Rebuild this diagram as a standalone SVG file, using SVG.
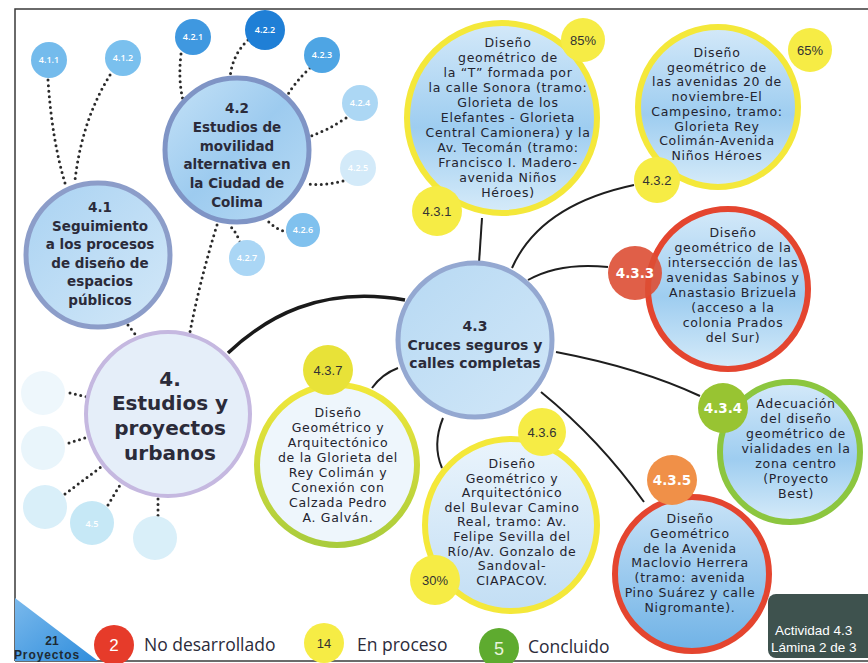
<svg xmlns="http://www.w3.org/2000/svg" width="868" height="663" viewBox="0 0 868 663">
<defs>
<style>
.t{font-family:"DejaVu Sans","Open Sans",sans-serif;font-size:12.5px;letter-spacing:0.7px;fill:#24242f;text-anchor:middle}
.b{font-family:"DejaVu Sans","Open Sans",sans-serif;font-weight:700;fill:#2b2b3a;text-anchor:middle}
.bd{font-family:"Liberation Sans",Arial,sans-serif;font-size:13px;fill:#333;text-anchor:middle}
.bw{font-family:"DejaVu Sans","Open Sans",sans-serif;font-weight:700;font-size:13.5px;fill:#fff;text-anchor:middle}
.sm{font-family:"Open Sans","Noto Sans",sans-serif;font-size:9px;font-weight:600;fill:#fff;text-anchor:middle}
.dot{fill:none;stroke:#2a2a2a;stroke-width:3;stroke-linecap:round;stroke-dasharray:0 5.5}
.ln{fill:none;stroke:#1e1e1e;stroke-width:2}
.lg{font-family:"Open Sans","Noto Sans",sans-serif;font-size:17.5px;fill:#2b2b3a}
</style>
<linearGradient id="gIn" x1="0" y1="0" x2="0" y2="1">
<stop offset="0" stop-color="#d4e9f9"/><stop offset="0.55" stop-color="#9ecdf0"/><stop offset="1" stop-color="#d6ebf9"/>
</linearGradient>
<linearGradient id="gIn5" x1="0" y1="0" x2="0" y2="1">
<stop offset="0" stop-color="#c9e3f7"/><stop offset="1" stop-color="#6fb2e6"/>
</linearGradient>
<linearGradient id="gPale" x1="0" y1="0" x2="0" y2="1">
<stop offset="0" stop-color="#eaf4fc"/><stop offset="1" stop-color="#c2def4"/>
</linearGradient>
<linearGradient id="g41" x1="0" y1="0" x2="1" y2="1">
<stop offset="0" stop-color="#a9d2f2"/><stop offset="1" stop-color="#d3e8f8"/>
</linearGradient>
<linearGradient id="g42" x1="0" y1="0" x2="1" y2="1">
<stop offset="0" stop-color="#c5e2f7"/><stop offset="0.5" stop-color="#9dcbef"/><stop offset="1" stop-color="#b9dbf4"/>
</linearGradient>
<linearGradient id="g43" x1="0" y1="0" x2="1" y2="1">
<stop offset="0" stop-color="#b7d9f3"/><stop offset="1" stop-color="#d1e7f8"/>
</linearGradient>
<linearGradient id="gRing7" x1="0" y1="0" x2="0" y2="1">
<stop offset="0" stop-color="#f2e83a"/><stop offset="1" stop-color="#a9cc3c"/>
</linearGradient>
<linearGradient id="gTri" x1="0" y1="0" x2="1" y2="1">
<stop offset="0" stop-color="#7ab9ec"/><stop offset="1" stop-color="#2f8ddc"/>
</linearGradient>
</defs>

<rect width="868" height="663" fill="#ffffff"/>
<g id="frame" fill="none" stroke="#3a3a3a" stroke-width="1.5">
<path d="M15,661 L15,9 L868,9"/>
<path d="M15,661 L868,661"/>
</g>

<g id="connectors">
<path class="dot" d="M48,80 Q52,140 65,183"/>
<path class="dot" d="M110,75 Q82,120 75,180"/>
<path class="dot" d="M181,54 Q178,80 183,100"/>
<path class="dot" d="M248,40 Q232,55 230,78"/>
<path class="dot" d="M310,68 Q295,82 287,96"/>
<path class="dot" d="M346,118 Q328,130 311,136"/>
<path class="dot" d="M343,181 Q325,186 307,184"/>
<path class="dot" d="M288,232 Q276,230 268,221"/>
<path class="dot" d="M240,242 Q236,232 231,227"/>
<path class="dot" d="M217,225 Q200,280 190,332"/>
<path class="dot" d="M128,325 L135,334"/>
<path class="dot" d="M70,393 L87,397"/>
<path class="dot" d="M69,443 L88,437"/>
<path class="dot" d="M65,494 L101,467"/>
<path class="dot" d="M108,505 L120,485"/>
<path class="dot" d="M158,499 L158,516"/>
<path d="M228,353 C265,318 320,285 405,300" fill="none" stroke="#1a1a1a" stroke-width="3.5"/>
<path class="ln" d="M479,263 L482,218"/>
<path class="ln" d="M512,268 Q540,205 634,185"/>
<path class="ln" d="M528,280 Q560,262 608,267"/>
<path class="ln" d="M556,352 Q640,368 700,396"/>
<path class="ln" d="M541,392 Q600,440 644,502"/>
<path class="ln" d="M443,418 Q432,445 442,468"/>
<path class="ln" d="M398,368 Q382,374 372,388"/>
</g>

<g id="n411"><circle cx="49" cy="60" r="18" fill="#74bbec"/><text class="sm" x="49" y="63">4.1.1</text></g>
<g id="n412"><circle cx="123" cy="58" r="18" fill="#7ac0ee"/><text class="sm" x="123" y="61">4.1.2</text></g>
<g id="n421"><circle cx="193" cy="37" r="18" fill="#3f98e0"/><text class="sm" x="193" y="40">4.2.1</text></g>
<g id="n422"><circle cx="265" cy="30" r="20" fill="#1f7fd6"/><text class="sm" x="265" y="33">4.2.2</text></g>
<g id="n423"><circle cx="322" cy="55" r="18" fill="#4ea5e4"/><text class="sm" x="322" y="58">4.2.3</text></g>
<g id="n424"><circle cx="360" cy="103" r="18" fill="#acd7f4"/><text class="sm" x="360" y="106">4.2.4</text></g>
<g id="n425"><circle cx="358" cy="168" r="18" fill="#d3eaf9"/><text class="sm" x="358" y="171">4.2.5</text></g>
<g id="n426"><circle cx="303" cy="230" r="17" fill="#80c1ee"/><text class="sm" x="303" y="233">4.2.6</text></g>
<g id="n427"><circle cx="247" cy="258" r="18" fill="#aad6f5"/><text class="sm" x="247" y="261">4.2.7</text></g>

<g id="faint" fill="#d9eff9">
<circle cx="43" cy="393" r="22" fill="#eef7fc"/>
<circle cx="43" cy="448" r="22" fill="#e9f5fb"/>
<circle cx="45" cy="507" r="22"/>
<circle cx="92" cy="523" r="22" fill="#c6e8f6"/>
<circle cx="155" cy="538" r="22"/>
<text class="sm" x="92" y="527" font-size="11">4.5</text>
</g>

<g id="n41">
<circle cx="98" cy="255" r="72" fill="url(#g41)" stroke="#8c9dc9" stroke-width="5"/>
<text class="b" font-size="13.5"><tspan x="100" y="212">4.1</tspan><tspan x="100" y="230.6">Seguimiento</tspan><tspan x="100" y="249.2">a los procesos</tspan><tspan x="100" y="267.8">de diseño de</tspan><tspan x="100" y="286.4">espacios</tspan><tspan x="100" y="305">públicos</tspan></text>
</g>

<g id="n42">
<circle cx="237" cy="150" r="72" fill="url(#g42)" stroke="#7f94c5" stroke-width="5"/>
<text class="b" font-size="13.5"><tspan x="237" y="113">4.2</tspan><tspan x="237" y="131.8">Estudios de</tspan><tspan x="237" y="150.6">movilidad</tspan><tspan x="237" y="169.4">alternativa en</tspan><tspan x="237" y="188.2">la Ciudad de</tspan><tspan x="237" y="207">Colima</tspan></text>
</g>

<g id="n4">
<circle cx="168" cy="414" r="82" fill="#e5eef9" stroke="#c5b8e0" stroke-width="4"/>
<text class="b" font-size="20" fill="#25252f"><tspan x="170" y="386">4.</tspan><tspan x="170" y="410">Estudios y</tspan><tspan x="170" y="435">proyectos</tspan><tspan x="170" y="460">urbanos</tspan></text>
</g>

<g id="n43">
<circle cx="475" cy="340" r="77" fill="url(#g43)" stroke="#94a8d1" stroke-width="5"/>
<text class="b" font-size="14"><tspan x="475" y="331">4.3</tspan><tspan x="475" y="349.5">Cruces seguros y</tspan><tspan x="475" y="368">calles completas</tspan></text>
</g>

<g id="n431">
<circle cx="502" cy="118" r="95" fill="url(#gIn)" stroke="#f4e83a" stroke-width="6"/>
<text class="t"><tspan x="508" y="47">Diseño</tspan><tspan x="508" y="62">geométrico de</tspan><tspan x="508" y="77">la “T” formada por</tspan><tspan x="508" y="92">la calle Sonora (tramo:</tspan><tspan x="508" y="107">Glorieta de los</tspan><tspan x="508" y="122">Elefantes - Glorieta</tspan><tspan x="508" y="137">Central Camionera) y la</tspan><tspan x="508" y="152">Av. Tecomán (tramo:</tspan><tspan x="508" y="167">Francisco I. Madero-</tspan><tspan x="508" y="182">avenida Niños</tspan><tspan x="508" y="197">Héroes)</tspan></text>
<circle cx="583" cy="40" r="22" fill="#f6ec45"/><text class="bd" x="583" y="45">85%</text>
<circle cx="437" cy="211" r="25" fill="#f6ec45"/><text class="bd" x="437" y="216">4.3.1</text>
</g>

<g id="n432">
<circle cx="718" cy="107" r="80" fill="url(#gIn)" stroke="#f4e83a" stroke-width="6"/>
<text class="t"><tspan x="717" y="57">Diseño</tspan><tspan x="717" y="71.7">geométrico de</tspan><tspan x="717" y="86.4">las avenidas 20 de</tspan><tspan x="717" y="101.1">noviembre-El</tspan><tspan x="717" y="115.8">Campesino, tramo:</tspan><tspan x="717" y="130.5">Glorieta Rey</tspan><tspan x="717" y="145.2">Colimán-Avenida</tspan><tspan x="717" y="160">Niños Héroes</tspan></text>
<circle cx="810" cy="50" r="22" fill="#f6ec45"/><text class="bd" x="810" y="55">65%</text>
<circle cx="657" cy="180" r="23" fill="#f6ec45"/><text class="bd" x="657" y="185">4.3.2</text>
</g>

<g id="n433">
<circle cx="728" cy="289" r="80" fill="url(#gIn)" stroke="#e4452f" stroke-width="6"/>
<text class="t"><tspan x="733" y="237">Diseño</tspan><tspan x="733" y="252">geométrico de la</tspan><tspan x="733" y="267">intersección de las</tspan><tspan x="733" y="282">avenidas Sabinos y</tspan><tspan x="733" y="297">Anastasio Brizuela</tspan><tspan x="733" y="312">(acceso a la</tspan><tspan x="733" y="327">colonia Prados</tspan><tspan x="733" y="342">del Sur)</tspan></text>
<circle cx="635" cy="273" r="27" fill="#dd4e34" fill-opacity="0.9"/><text class="bw" x="635" y="278">4.3.3</text>
</g>

<g id="n434">
<circle cx="790" cy="452" r="70" fill="url(#gIn)" stroke="#8cc63f" stroke-width="6"/>
<text class="t"><tspan x="796" y="408">Adecuación</tspan><tspan x="796" y="423">del diseño</tspan><tspan x="796" y="438">geométrico de</tspan><tspan x="796" y="453">vialidades en la</tspan><tspan x="796" y="468">zona centro</tspan><tspan x="796" y="483">(Proyecto</tspan><tspan x="796" y="498">Best)</tspan></text>
<circle cx="723" cy="408" r="25" fill="#98c432"/><text class="bw" x="723" y="413" font-size="12">4.3.4</text>
</g>

<g id="n435">
<circle cx="692" cy="574" r="77" fill="url(#gIn5)" stroke="#e4452f" stroke-width="6"/>
<text class="t"><tspan x="690" y="523">Diseño</tspan><tspan x="690" y="537.8">Geométrico</tspan><tspan x="690" y="552.6">de la Avenida</tspan><tspan x="690" y="567.4">Maclovio Herrera</tspan><tspan x="690" y="582.2">(tramo: avenida</tspan><tspan x="690" y="597">Pino Suárez y calle</tspan><tspan x="690" y="612">Nigromante).</tspan></text>
<circle cx="672" cy="480" r="25" fill="#f09048"/><text class="bw" x="672" y="485">4.3.5</text>
</g>

<g id="n436">
<circle cx="511" cy="525" r="86" fill="url(#gPale)" stroke="#f4e83a" stroke-width="6"/>
<text class="t"><tspan x="512" y="468">Diseño</tspan><tspan x="512" y="482.6">Geométrico y</tspan><tspan x="512" y="497.2">Arquitectónico</tspan><tspan x="512" y="511.8">del Bulevar Camino</tspan><tspan x="512" y="526.4">Real, tramo: Av.</tspan><tspan x="512" y="541">Felipe Sevilla del</tspan><tspan x="512" y="555.6">Río/Av. Gonzalo de</tspan><tspan x="512" y="570.2">Sandoval-</tspan><tspan x="512" y="585">CIAPACOV.</tspan></text>
<circle cx="542" cy="432" r="24" fill="#f6ec45"/><text class="bd" x="542" y="437">4.3.6</text>
<circle cx="435" cy="580" r="25" fill="#f6ec45"/><text class="bd" x="435" y="585">30%</text>
</g>

<g id="n437">
<circle cx="337" cy="465" r="80" fill="#eef6fc" stroke="url(#gRing7)" stroke-width="6"/>
<text class="t"><tspan x="338" y="417">Diseño</tspan><tspan x="338" y="432">Geométrico y</tspan><tspan x="338" y="447">Arquitectónico</tspan><tspan x="338" y="462">de la Glorieta del</tspan><tspan x="338" y="477">Rey Colimán y</tspan><tspan x="338" y="492">Conexión con</tspan><tspan x="338" y="507">Calzada Pedro</tspan><tspan x="338" y="522">A. Galván.</tspan></text>
<circle cx="328" cy="370" r="25" fill="#e8e238"/><text class="bd" x="328" y="375" fill="#fbfbe8">4.3.7</text>
</g>

<g id="legend">
<path d="M15,598 L15,661 L98,661 Z" fill="url(#gTri)"/>
<text font-family="Liberation Sans,Arial,sans-serif" font-weight="700" font-size="12" fill="#1e2a33" text-anchor="middle"><tspan x="52" y="645">21</tspan><tspan x="47" y="659" letter-spacing="0.9">Proyectos</tspan></text>
<circle cx="114" cy="645" r="20" fill="#e63b2a"/><text x="114" y="651" font-family="Liberation Sans,Arial,sans-serif" font-size="17" fill="#fff" text-anchor="middle">2</text>
<text class="lg" x="144" y="651">No desarrollado</text>
<circle cx="324" cy="643" r="20" fill="#f6ec45"/><text x="324" y="648" font-family="Liberation Sans,Arial,sans-serif" font-size="13" fill="#333" text-anchor="middle">14</text>
<text class="lg" x="357" y="651">En proceso</text>
<circle cx="499" cy="648" r="20" fill="#5eab2f"/><text x="499" y="655" font-family="Liberation Sans,Arial,sans-serif" font-size="18" fill="#e8f4dc" text-anchor="middle">5</text>
<text class="lg" x="528" y="653">Concluido</text>
</g>

<g id="activity">
<rect x="768" y="594" width="110" height="64" rx="8" fill="#3e524e"/>
<text font-family="Liberation Sans,Arial,sans-serif" font-size="13.5" fill="#ffffff"><tspan x="775" y="635">Actividad 4.3</tspan><tspan x="771" y="652">Lámina 2 de 3</tspan></text>
</g>
</svg>
